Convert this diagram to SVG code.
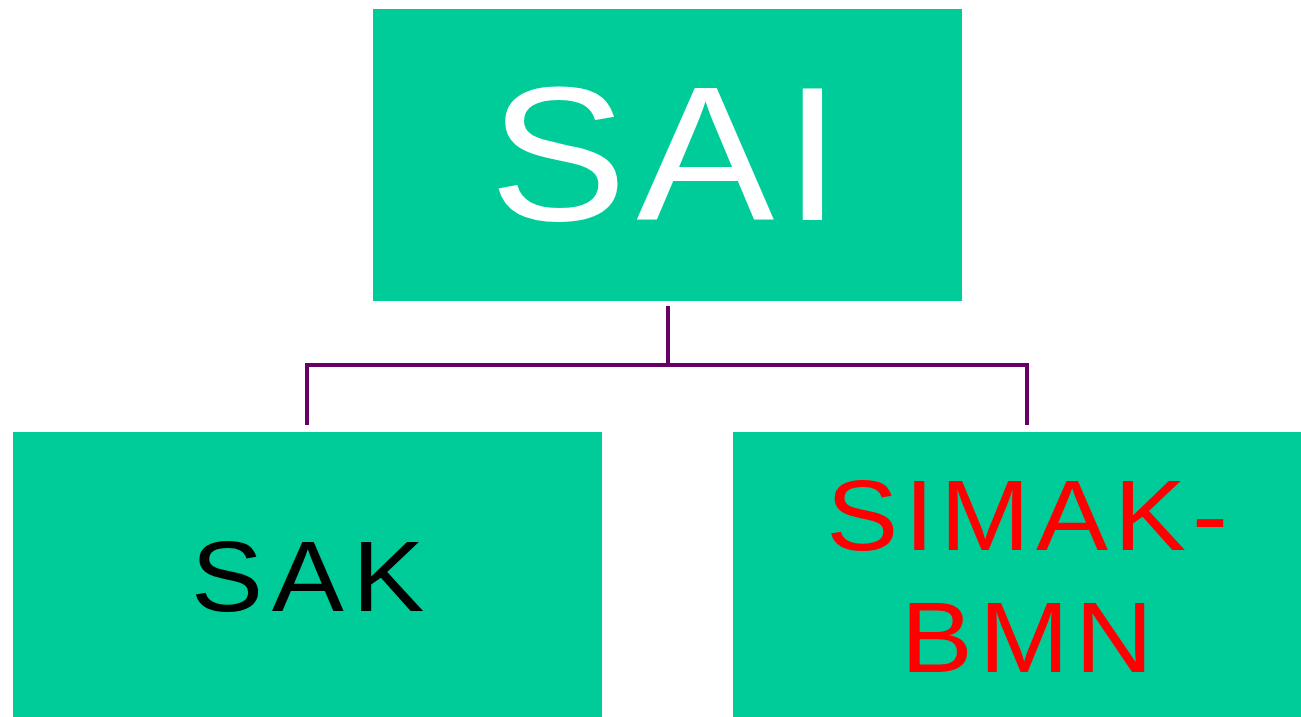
<svg xmlns="http://www.w3.org/2000/svg" width="1301" height="717" viewBox="0 0 1301 717">
<style>
.box{fill:#00cc99}
.t{font-family:"Liberation Sans",Arial,sans-serif;text-anchor:middle}
.conn{fill:none;stroke:#660066;stroke-width:4}
</style>
<rect width="1301" height="717" fill="#ffffff"/>
<g id="connectors">
<path class="conn" d="M668 306V365M307 425V365H1027V425"/>
</g>
<g id="node-sai">
<rect class="box" x="373" y="9" width="589" height="292"/>
<text class="t" transform="translate(670 220) scale(1.08 1)" font-size="191" letter-spacing="9" fill="#ffffff">SAI</text>
</g>
<g id="node-sak">
<rect class="box" x="13" y="432" width="589" height="290"/>
<text class="t" transform="translate(312 611) scale(1.08 1)" font-size="100" letter-spacing="8" fill="#000000">SAK</text>
</g>
<g id="node-simak">
<rect class="box" x="733" y="432" width="589" height="290"/>
<text class="t" transform="translate(1030 550) scale(1.08 1)" font-size="100" letter-spacing="5.5" fill="#ff0000">SIMAK-</text>
<text class="t" transform="translate(1030 672) scale(1.08 1)" font-size="100" letter-spacing="5.7" fill="#ff0000">BMN</text>
</g>
</svg>
